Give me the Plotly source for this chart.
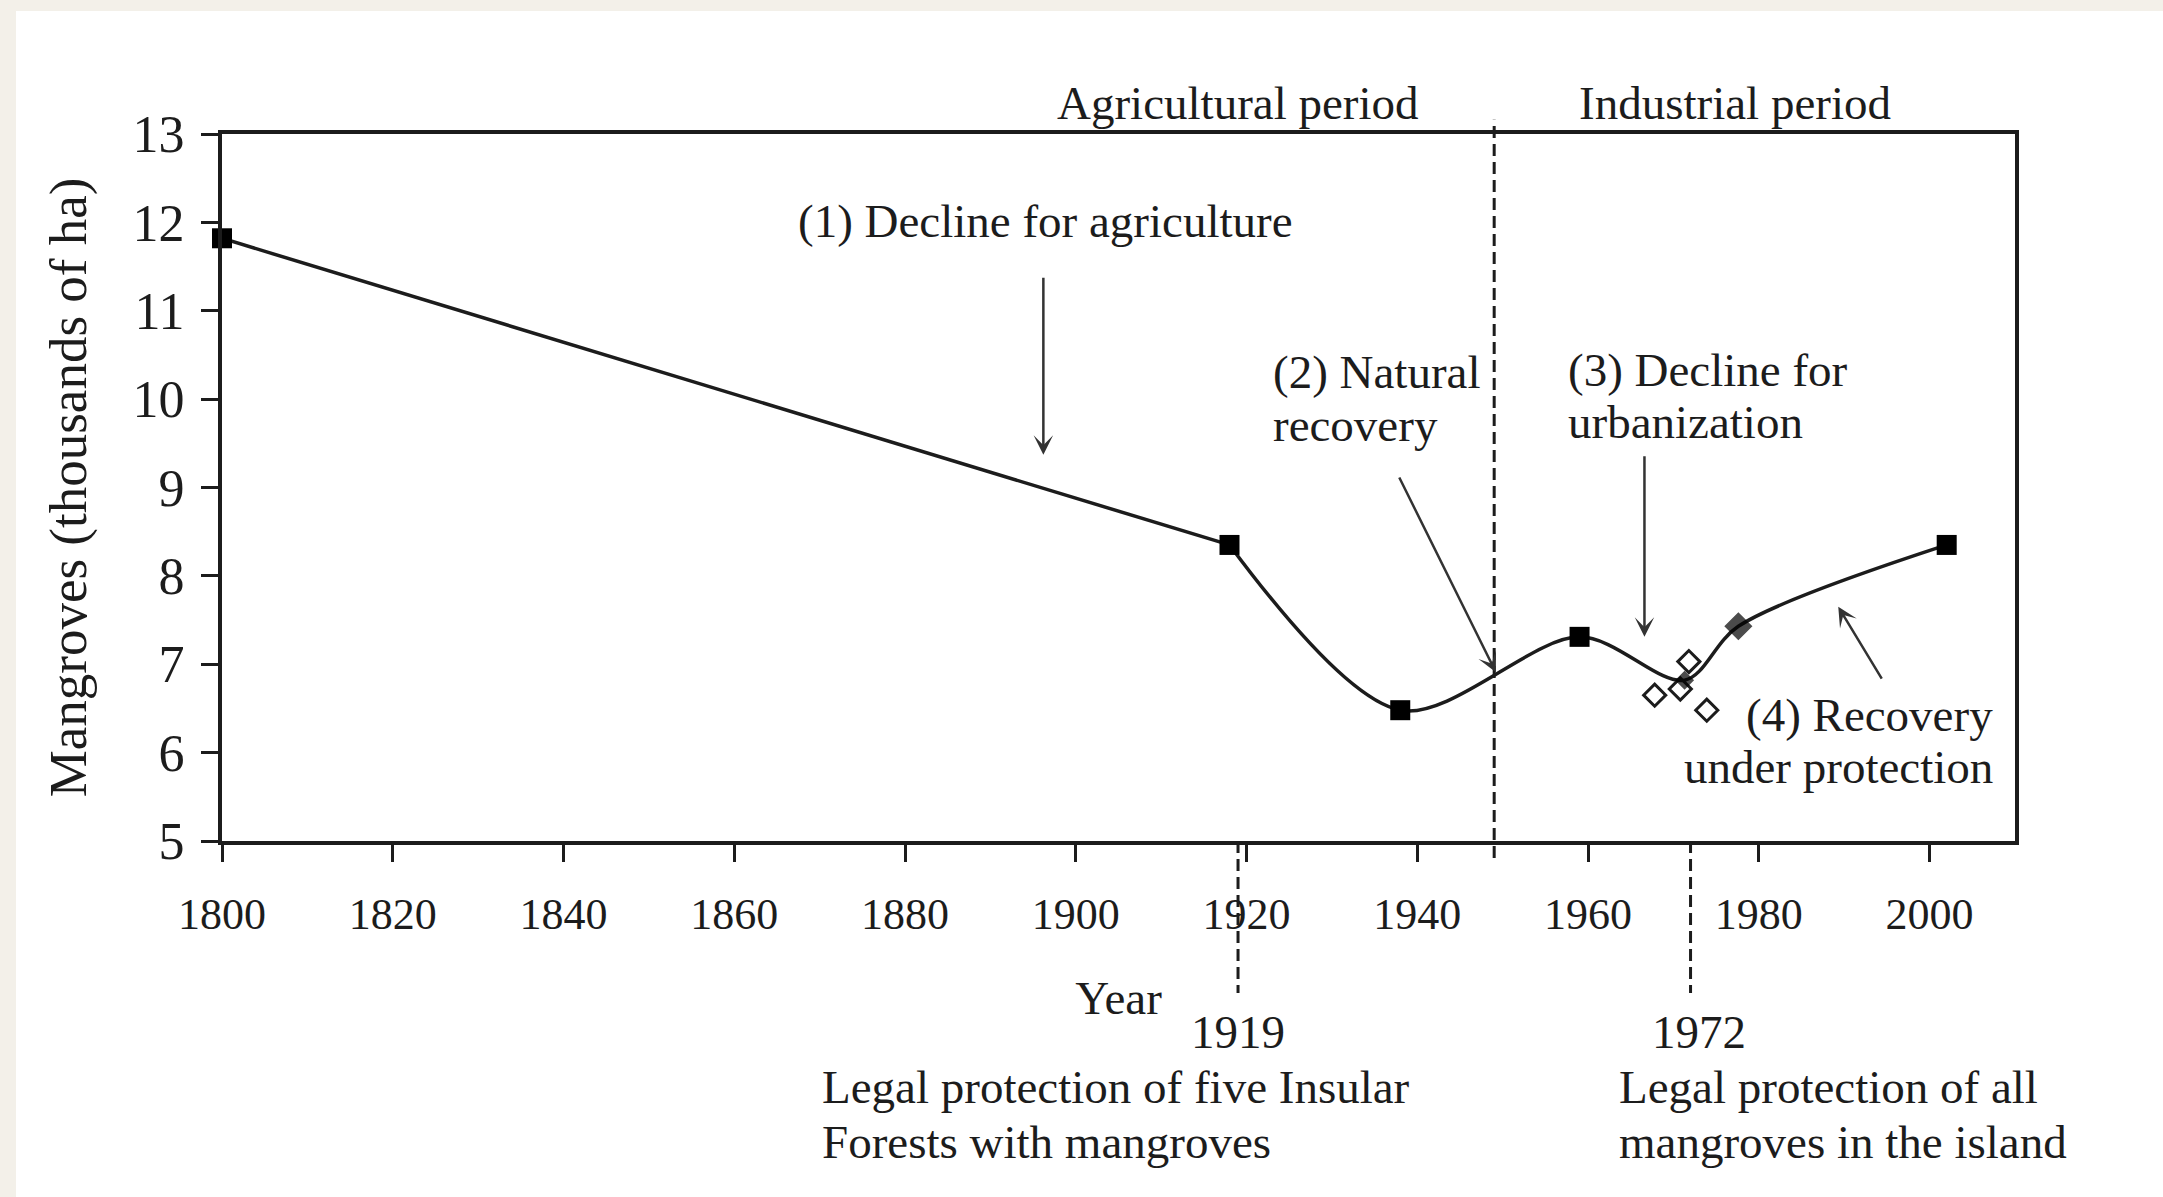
import plotly.graph_objects as go

# ---------------- data ----------------
square_years = [1800, 1918, 1938, 1959, 2002]
square_values = [11.82, 8.35, 6.48, 7.31, 8.35]

filled_diamond_years = [1971.3, 1977.6]
filled_diamond_values = [6.82, 7.43]

open_diamond_years = [1967.8, 1970.8, 1971.8, 1973.9]
open_diamond_values = [6.65, 6.72, 7.03, 6.48]

x_tick_values = [1800, 1820, 1840, 1860, 1880, 1900, 1920, 1940, 1960, 1980, 2000]
y_tick_values = [5, 6, 7, 8, 9, 10, 11, 12, 13]

period_split_year = 1949
protection_years = [1919, 1972]
protection_lines = [["Legal protection of five Insular", "Forests with mangroves"],
                    ["Legal protection of all", "mangroves in the island"]]
period_labels = ["Agricultural period", "Industrial period"]

phase_lines = [["(1) Decline for agriculture"],
               ["(2) Natural", "recovery"],
               ["(3) Decline for", "urbanization"],
               ["(4) Recovery", "under protection"]]
# arrows: (tail x, tail y, head x, head y)
phase_arrows = [(1896.2, 11.39, 1896.2, 9.37),
                (1937.8, 9.13, 1949.2, 6.91),
                (1966.6, 9.37, 1966.6, 7.31),
                (1994.5, 6.82, 1989.3, 7.65)]

# line path built from the marker series
line_pts = sorted(zip(square_years + filled_diamond_years, square_values + filled_diamond_values))
line_x = [p[0] for p in line_pts]
line_y = [p[1] for p in line_pts]

FONT = "Liberation Serif, Times New Roman, serif"
INK = "#1c1c1c"
FS = 47

W, H = 2163, 1197
ml, mr, mt, mb = 222, 148, 134, 356
pw, ph = W - ml - mr, H - mt - mb
Y0, Y1 = 5, 13


def px_x(p):
    return (p - ml) / pw


def px_y(p):
    return (H - mb - p) / ph


def val_y(p):
    return Y0 + px_y(p) * (Y1 - Y0)


fig = go.Figure()
fig.add_trace(go.Scatter(x=line_x[:2], y=line_y[:2], mode="lines",
                         line=dict(color=INK, width=3.5), showlegend=False, hoverinfo="skip"))
fig.add_trace(go.Scatter(x=line_x[1:], y=line_y[1:], mode="lines",
                         line=dict(color=INK, width=3.5, shape="spline", smoothing=0.9),
                         showlegend=False, hoverinfo="skip"))
fig.add_trace(go.Scatter(x=open_diamond_years, y=open_diamond_values, mode="markers",
                         marker=dict(symbol="diamond-open", size=17, color=INK,
                                     line=dict(width=3, color=INK)),
                         showlegend=False, cliponaxis=False))
fig.add_trace(go.Scatter(x=square_years, y=square_values, mode="markers",
                         marker=dict(symbol="square", size=20, color="black", line=dict(width=0)),
                         showlegend=False, cliponaxis=False))
fig.add_trace(go.Scatter(x=filled_diamond_years, y=filled_diamond_values, mode="markers",
                         marker=dict(symbol="diamond", size=[13, 20], color="black",
                                     line=dict(width=1.5, color="black")),
                         showlegend=False, cliponaxis=False))

shapes = []
shapes.append(dict(type="rect", xref="paper", yref="paper",
                   x0=px_x(16), x1=px_x(W + 5), y0=px_y(H + 5), y1=px_y(11),
                   fillcolor="white", line=dict(width=0), layer="below"))
dash = "12px,6px"
shapes.append(dict(type="line", xref="x", yref="paper", x0=period_split_year, x1=period_split_year,
                   y0=-0.024, y1=1.02, line=dict(color=INK, width=3, dash=dash)))
for yr in protection_years:
    shapes.append(dict(type="line", xref="x", yref="paper", x0=yr, x1=yr,
                       y0=0, y1=px_y(993), line=dict(color=INK, width=3, dash=dash)))


def txt(text, x, y, xref="x", yref="y", xanchor="center"):
    return dict(text=text, x=x, y=y, xref=xref, yref=yref, xanchor=xanchor, yanchor="middle",
                showarrow=False, font=dict(size=FS, color=INK, family=FONT))


ann = []
ann.append(txt(period_labels[0], 1919, px_y(103), yref="paper"))
ann.append(txt(period_labels[1], 1977.2, px_y(103), yref="paper"))

ann.append(txt(phase_lines[0][0], 1896.5, val_y(221)))
ann.append(txt(phase_lines[1][0], 1922.9, val_y(372), xanchor="left"))
ann.append(txt(phase_lines[1][1], 1922.9, val_y(425), xanchor="left"))
ann.append(txt(phase_lines[2][0], 1957.4, val_y(370), xanchor="left"))
ann.append(txt(phase_lines[2][1], 1957.4, val_y(422), xanchor="left"))
ann.append(txt(phase_lines[3][0], 2007.6, val_y(715), xanchor="right"))
ann.append(txt(phase_lines[3][1], 2007.6, val_y(767), xanchor="right"))

for (tx, ty, hx, hy) in phase_arrows:
    ann.append(dict(text="", x=hx, y=hy, ax=tx, ay=ty, xref="x", yref="y", axref="x", ayref="y",
                    showarrow=True, arrowhead=3, arrowsize=1.3, arrowwidth=2.5, arrowcolor="#333"))

ann.append(txt(str(protection_years[0]), 1919, px_y(1032), yref="paper"))
ann.append(txt(str(protection_years[1]), 1973, px_y(1032), yref="paper"))
ann.append(txt(protection_lines[0][0], 1870, px_y(1087), yref="paper", xanchor="left"))
ann.append(txt(protection_lines[0][1], 1870, px_y(1142), yref="paper", xanchor="left"))
ann.append(txt(protection_lines[1][0], 1963.4, px_y(1087), yref="paper", xanchor="left"))
ann.append(txt(protection_lines[1][1], 1963.4, px_y(1142), yref="paper", xanchor="left"))

fig.update_layout(
    width=W, height=H, autosize=False,
    margin=dict(l=ml, r=mr, t=mt, b=mb, pad=0),
    paper_bgcolor="#f3f0e9", plot_bgcolor="white",
    font=dict(family=FONT, color=INK),
    shapes=shapes, annotations=ann,
    showlegend=False,
)
fig.update_xaxes(range=[1800, 2010], tickvals=x_tick_values, ticktext=[str(v) for v in x_tick_values],
                 showgrid=False, zeroline=False, showline=True, mirror=True,
                 linecolor=INK, linewidth=4, ticks="outside", ticklen=17, tickwidth=2.5, tickcolor=INK,
                 tickfont=dict(size=44, family=FONT, color=INK), ticklabelstandoff=14,
                 title=dict(text="Year", font=dict(size=FS, family=FONT, color=INK), standoff=44),
                 automargin=False)
fig.update_yaxes(range=[Y0, Y1], tickvals=y_tick_values, ticktext=[str(v) for v in y_tick_values],
                 showgrid=False, zeroline=False, showline=True, mirror=True,
                 linecolor=INK, linewidth=4, ticks="outside", ticklen=17, tickwidth=2.5, tickcolor=INK,
                 tickfont=dict(size=52, family=FONT, color=INK), ticklabelstandoff=6,
                 title=dict(text="Mangroves (thousands of ha)", font=dict(size=53, family=FONT, color=INK),
                            standoff=30),
                 automargin=False)

fig.write_html("out.html", config={"displayModeBar": False},
               post_script="document.body.style.margin='0';")
